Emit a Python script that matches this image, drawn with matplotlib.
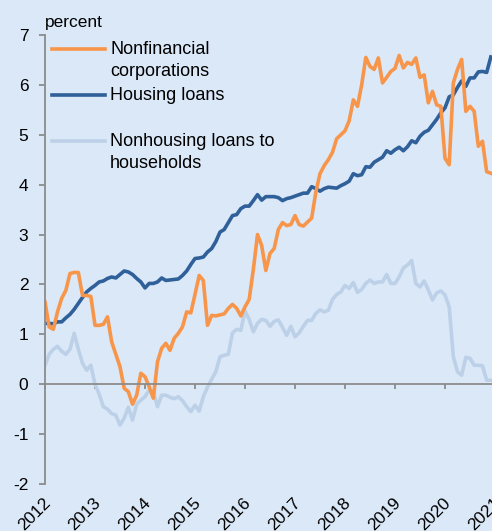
import numpy as np
import matplotlib
matplotlib.use('Agg')
import matplotlib.pyplot as plt
import matplotlib.transforms as mtransforms

plt.rcParams['font.family'] = ['Liberation Sans', 'DejaVu Sans']
plt.rcParams['axes.unicode_minus'] = False

# monthly data, Jan 2012 .. Dec 2020 (percent)
nonfinancial = [
    1.65, 1.15, 1.10, 1.45, 1.72, 1.88, 2.22, 2.24, 2.24, 1.78, 1.78, 1.76,
    1.18, 1.18, 1.20, 1.35, 0.85, 0.60, 0.35, -0.08, -0.15, -0.40, -0.22, 0.22,
    0.15, -0.05, -0.28, 0.45, 0.72, 0.82, 0.68, 0.92, 1.02, 1.15, 1.45, 1.43,
    1.80, 2.18, 2.08, 1.18, 1.38, 1.37, 1.39, 1.41, 1.52, 1.60, 1.52, 1.37,
    1.55, 1.70, 2.30, 3.00, 2.78, 2.28, 2.62, 2.72, 3.10, 3.24, 3.18, 3.20,
    3.38, 3.20, 3.17, 3.25, 3.33, 3.85, 4.22, 4.38, 4.50, 4.65, 4.92, 5.00,
    5.08, 5.28, 5.70, 5.57, 6.00, 6.55, 6.37, 6.31, 6.54, 6.04, 6.15, 6.27,
    6.33, 6.59, 6.34, 6.45, 6.41, 6.54, 6.15, 6.20, 5.64, 5.87, 5.60, 5.57,
    4.53, 4.40, 6.04, 6.31, 6.51, 5.47, 5.57, 5.47, 4.77, 4.87, 4.26, 4.23,
]
housing = [
    1.22, 1.22, 1.21, 1.25, 1.25, 1.33, 1.40, 1.50, 1.62, 1.74, 1.85, 1.92,
    1.98, 2.05, 2.07, 2.12, 2.15, 2.13, 2.20, 2.27, 2.25, 2.20, 2.12, 2.05,
    1.93, 2.02, 2.02, 2.05, 2.13, 2.08, 2.09, 2.10, 2.11, 2.18, 2.27, 2.40,
    2.52, 2.53, 2.55, 2.65, 2.72, 2.86, 3.05, 3.10, 3.24, 3.38, 3.40, 3.52,
    3.57, 3.57, 3.68, 3.80, 3.69, 3.76, 3.76, 3.76, 3.74, 3.68, 3.72, 3.74,
    3.77, 3.80, 3.83, 3.83, 3.96, 3.92, 3.87, 3.92, 3.95, 3.94, 3.93, 3.98,
    4.02, 4.07, 4.22, 4.18, 4.20, 4.36, 4.35, 4.45, 4.50, 4.55, 4.68, 4.63,
    4.70, 4.75, 4.68, 4.76, 4.88, 4.84, 4.97, 5.05, 5.09, 5.20, 5.31, 5.44,
    5.54, 5.76, 5.80, 5.95, 6.08, 5.97, 6.14, 6.14, 6.26, 6.27, 6.25, 6.56,
]
nonhousing = [
    0.38, 0.60, 0.70, 0.76, 0.66, 0.60, 0.70, 1.02, 0.70, 0.42, 0.28, 0.38,
    0.00, -0.20, -0.45, -0.50, -0.59, -0.62, -0.82, -0.68, -0.46, -0.72, -0.40, -0.32,
    -0.25, -0.12, -0.15, -0.45, -0.22, -0.22, -0.26, -0.29, -0.25, -0.33, -0.45, -0.55,
    -0.42, -0.54, -0.25, -0.06, 0.10, 0.25, 0.55, 0.58, 0.60, 1.03, 1.10, 1.08,
    1.47, 1.30, 1.05, 1.22, 1.30, 1.28, 1.16, 1.26, 1.29, 1.14, 0.98, 1.16,
    0.95, 1.03, 1.16, 1.28, 1.28, 1.42, 1.49, 1.45, 1.48, 1.70, 1.80, 1.85,
    1.98, 1.92, 2.04, 1.84, 1.90, 2.02, 2.09, 2.02, 2.05, 2.05, 2.20, 2.02,
    2.02, 2.15, 2.33, 2.39, 2.48, 2.02, 1.95, 2.07, 1.89, 1.69, 1.83, 1.87,
    1.79, 1.55, 0.55, 0.25, 0.18, 0.54, 0.52, 0.38, 0.38, 0.37, 0.08, 0.08,
]
years = list(range(2012, 2022))
yticks = list(range(-2, 8))

t = 2012 + np.arange(len(housing)) / 12

bg = '#dbe8f8'
orange = '#f7964a'
dark = '#30609a'
light = '#bcd1e8'
grey = '#8c8c8c'

fig = plt.figure(figsize=(4.92, 5.31), dpi=100, facecolor=bg)
ax = fig.add_axes([45/492, 47/531, 450/492, 449/531], facecolor=bg)

ax.plot(t, nonhousing, color=light, lw=2.6)
ax.plot(t, housing, color=dark, lw=2.6)
ax.plot(t, nonfinancial, color=orange, lw=2.6)

ax.set_xlim(2012, 2021)
ax.set_ylim(-2, 7)
ax.set_yticks(yticks)
ax.set_xticks(years)

for s in ['top', 'right']:
    ax.spines[s].set_visible(False)
ax.spines['bottom'].set_position(('data', 0))
for s in ['left', 'bottom']:
    ax.spines[s].set_color(grey)
    ax.spines[s].set_linewidth(1.3)

ax.tick_params(axis='y', length=4, width=1.3, color=grey, labelsize=12.5, pad=8)
ax.tick_params(axis='x', length=3.5, width=1.3, color=grey, labelbottom=False)

# year labels below the plot area, rotated
trans = mtransforms.blended_transform_factory(ax.transData, ax.transAxes)
trans = trans + mtransforms.ScaledTranslation(3/100, 0, fig.dpi_scale_trans)
for yr in years:
    ax.text(yr, -0.036, str(yr), transform=trans, fontsize=12.5,
            rotation=45, ha='right', va='center', rotation_mode='anchor',
            clip_on=False)

# legend drawn by hand
def fx(px):
    return px / 492

def fy(py):
    return 1 - py / 531

fig.text(fx(45), fy(22), 'percent', fontsize=12.5, va='center', ha='left')

entries = [
    (orange, ['Nonfinancial', 'corporations'], 49),
    (dark, ['Housing loans'], 95),
    (light, ['Nonhousing loans to', 'households'], 141),
]
for col, lines, ypx in entries:
    fig.add_artist(plt.Line2D([fx(52), fx(105)], [fy(ypx), fy(ypx)],
                              color=col, lw=2.6))
    for i, s in enumerate(lines):
        fig.text(fx(110), fy(ypx + 22 * i), s, fontsize=13, va='center', ha='left')

fig.savefig('out.png', dpi=100, facecolor=bg)
